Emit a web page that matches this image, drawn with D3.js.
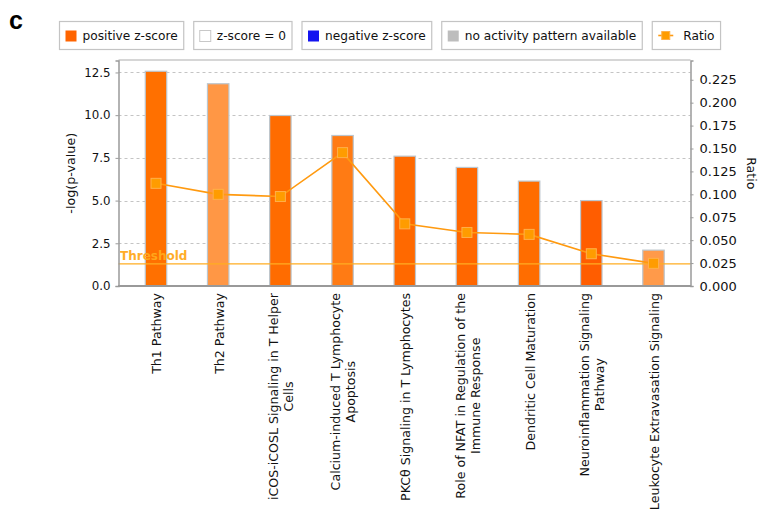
<!DOCTYPE html>
<html><head><meta charset="utf-8">
<script src="https://cdn.jsdelivr.net/npm/d3@7"></script>
<style>
body{margin:0;background:#fff}
svg{display:block}
text{font-family:"DejaVu Sans",sans-serif;fill:#111}
</style></head>
<body>
<script>
// ---- data ----
const categories = [
  "Th1 Pathway",
  "Th2 Pathway",
  "iCOS-iCOSL Signaling in T Helper Cells",
  "Calcium-induced T Lymphocyte Apoptosis",
  "PKCθ Signaling in T Lymphocytes",
  "Role of NFAT in Regulation of the Immune Response",
  "Dendritic Cell Maturation",
  "Neuroinflammation Signaling Pathway",
  "Leukocyte Extravasation Signaling"
];
const labelLines = [
  ["Th1 Pathway"],
  ["Th2 Pathway"],
  ["iCOS-iCOSL Signaling in T Helper", "Cells"],
  ["Calcium-induced T Lymphocyte", "Apoptosis"],
  ["PKCθ Signaling in T Lymphocytes"],
  ["Role of NFAT in Regulation of the", "Immune Response"],
  ["Dendritic Cell Maturation"],
  ["Neuroinflammation Signaling", "Pathway"],
  ["Leukocyte Extravasation Signaling"]
];
const logP   = [12.57, 11.84, 9.98, 8.81, 7.60, 6.94, 6.14, 5.00, 2.10];
const ratio  = [0.112, 0.100, 0.0976, 0.1455, 0.0678, 0.0584, 0.0563, 0.0352, 0.0247];
const zScore = [2.5, 1.1, 2.8, 2.1, 3.0, 3.1, 2.7, 3.8, 1.0];
const threshold = 1.3;
const leftTicks  = [0, 2.5, 5, 7.5, 10, 12.5];
const rightTicks = [0, 0.025, 0.05, 0.075, 0.1, 0.125, 0.15, 0.175, 0.2, 0.225];
const legendLabels = ["positive z-score", "z-score = 0", "negative z-score", "no activity pattern available", "Ratio"];
const panelLabel = "c";

// ---- layout ----
const W = 758, H = 511;
const L = 118.5, R = 690.5, T = 60.5, B = 286;

const svg = d3.select("body").append("svg").attr("width", W).attr("height", H);

const yL = d3.scaleLinear().domain([0, 13.2]).range([B, T]);
const yR = d3.scaleLinear().domain([0, 0.246]).range([B, T]);
const x = d3.scalePoint().domain(categories).range([156, 653.5]);
const barW = x.step() * 0.345;
const color = d3.scaleLinear().domain([1, 2.5, 4]).range(["#ff9a4a", "#ff7000", "#ff5a00"]);

// panel label
svg.append("text").attr("x", 9).attr("y", 29).text(panelLabel)
  .style("font-family", "'Liberation Sans',Arial,sans-serif")
  .style("font-weight", "bold").style("font-size", "25px").style("fill", "#000");

// gridlines
svg.append("g").selectAll("line").data(leftTicks.filter(d => d > 0)).join("line")
  .attr("x1", L).attr("x2", R).attr("y1", d => Math.round(yL(d)) + 0.5).attr("y2", d => Math.round(yL(d)) + 0.5)
  .attr("stroke", "#c4c4c4").attr("stroke-dasharray", "3,3");

// top border
svg.append("line").attr("x1", L).attr("x2", R).attr("y1", T - 0.5).attr("y2", T - 0.5)
  .attr("stroke", "#c8c8c8").attr("stroke-width", 1.5);

// bars
const idx = d3.range(categories.length);
svg.append("g").selectAll("rect").data(idx).join("rect")
  .attr("x", i => x(categories[i]) - barW / 2)
  .attr("y", i => yL(logP[i]))
  .attr("width", barW)
  .attr("height", i => yL(0) - yL(logP[i]))
  .attr("fill", i => color(zScore[i]))
  .attr("stroke", "#bcc6ce").attr("stroke-width", 1.2);

// threshold
svg.append("line").attr("x1", L).attr("x2", R)
  .attr("y1", yL(threshold)).attr("y2", yL(threshold))
  .attr("stroke", "#ffad22").attr("stroke-width", 1.2);
svg.append("text").attr("x", L + 1.5).attr("y", yL(threshold) - 3.5).text("Threshold")
  .style("font-weight", "bold").style("font-size", "12px").style("fill", "#ffa91c").style("opacity", 0.95);

// ratio line
const line = d3.line().x(i => x(categories[i])).y(i => yR(ratio[i]));
svg.append("path").datum(idx).attr("d", line)
  .attr("fill", "none").attr("stroke", "#ff9a10").attr("stroke-width", 1.6);
const ms = 10;
svg.append("g").selectAll("rect").data(idx).join("rect")
  .attr("x", i => x(categories[i]) - ms / 2)
  .attr("y", i => yR(ratio[i]) - ms / 2)
  .attr("width", ms).attr("height", ms)
  .attr("fill", "#ff9c00").attr("stroke", "#ffb04a").attr("stroke-width", 1);

// axes
const axL = svg.append("g").attr("transform", `translate(${L},0)`)
  .call(d3.axisLeft(yL).tickValues(leftTicks).tickFormat(d3.format(".1f")).tickSize(3).tickPadding(5));
axL.selectAll("text").style("font-size", "11.8px").style("fill", "#111");
const axR = svg.append("g").attr("transform", `translate(${R},0)`)
  .call(d3.axisRight(yR).tickValues(rightTicks).tickFormat(d3.format(".3f")).tickSize(3).tickPadding(6));
axR.selectAll("text").style("font-size", "13px").style("fill", "#111");
[axL, axR].forEach(a => {
  a.select(".domain").attr("stroke", "#9a9a9a").attr("stroke-width", 1.5);
  a.selectAll(".tick line").attr("stroke", "#9a9a9a");
});
// bottom line
svg.append("line").attr("x1", L - 0.5).attr("x2", R + 0.5).attr("y1", B).attr("y2", B)
  .attr("stroke", "#999").attr("stroke-width", 2);

// axis titles
svg.append("text").attr("transform", `translate(71,${(T + B) / 2}) rotate(-90)`)
  .attr("text-anchor", "middle").attr("dy", "0.35em").text("-log(p-value)").style("font-size", "12.7px");
svg.append("text").attr("transform", `translate(751,${(T + B) / 2}) rotate(90)`)
  .attr("text-anchor", "middle").attr("dy", "0.35em").text("Ratio").style("font-size", "12.5px");

// category labels
idx.forEach(i => {
  const g = svg.append("g").attr("transform", `translate(${x(categories[i])},293) rotate(-90)`);
  const lines = labelLines[i];
  const texts = lines.map((s, k) => g.append("text")
    .attr("text-anchor", "middle")
    .attr("y", (k - (lines.length - 1) / 2) * 15 + 1)
    .attr("dy", "0.35em")
    .style("font-size", "12.6px")
    .text(s));
  const maxW = d3.max(texts, t => t.node().getComputedTextLength());
  texts.forEach(t => t.attr("x", -maxW / 2));
});

// legend
const legendKinds = ["pos", "zero", "neg", "na", "ratio"];
let lx = 59.5;
const ly = 21.5, lh = 28;
legendLabels.forEach((lab, k) => {
  const g = svg.append("g");
  const box = g.append("rect").attr("y", ly).attr("height", lh).attr("fill", "#fff")
    .attr("stroke", "#c4c4c4").attr("stroke-width", 1.2);
  const kind = legendKinds[k];
  let tx;
  if (kind === "ratio") {
    g.append("line").attr("x1", lx + 6).attr("x2", lx + 21).attr("y1", ly + lh / 2).attr("y2", ly + lh / 2)
      .attr("stroke", "#ff9a10").attr("stroke-width", 1.6);
    g.append("rect").attr("x", lx + 9.5).attr("y", ly + lh / 2 - 4).attr("width", 8).attr("height", 8)
      .attr("fill", "#ff9c00").attr("stroke", "#ffb04a");
    tx = lx + 31;
  } else {
    const fills = {pos: "#ff6400", zero: "#ffffff", neg: "#1414f0", na: "#bdbdbd"};
    g.append("rect").attr("x", lx + 6).attr("y", ly + 9).attr("width", 11).attr("height", 11)
      .attr("fill", fills[kind]).attr("stroke", kind === "zero" ? "#c8c8c8" : "none");
    tx = lx + 23;
  }
  const t = g.append("text").attr("x", tx).attr("y", ly + lh / 2).attr("dy", "0.36em")
    .style("font-size", "12.2px").text(lab);
  const w = t.node().getComputedTextLength();
  const bw = tx - lx + w + 6;
  box.attr("x", lx).attr("width", bw);
  lx += bw + 10;
});
</script>
</body></html>
